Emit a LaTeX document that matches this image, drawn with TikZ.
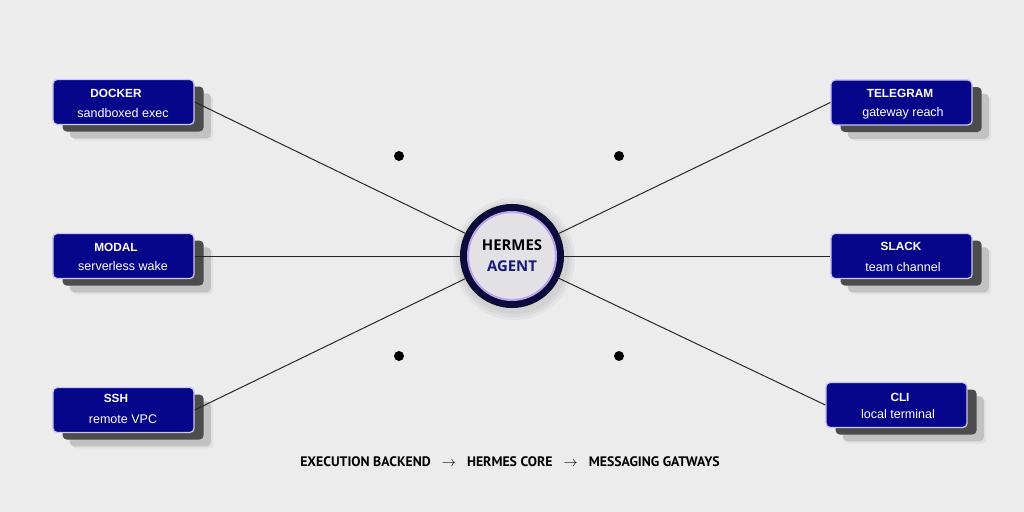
\documentclass[tikz,border=0pt]{standalone}
\usepackage{fontspec}
\setmainfont{Liberation Sans}
\newfontfamily\corefont{Open Sans}
\newfontfamily\capfont{PT Sans}
\usetikzlibrary{shadows,backgrounds}

\definecolor{bggray}{HTML}{ECECEC}
\definecolor{navybox}{HTML}{06068A}
\definecolor{lavend}{HTML}{CBC6F2}
\definecolor{ringdark}{HTML}{0C0C3A}
\definecolor{ringlight}{HTML}{B8A5EE}
\definecolor{corefill}{HTML}{E2E2E6}
\definecolor{agentblue}{HTML}{1A1A7C}

\tikzset{
  box/.style={rounded corners=3pt, fill=navybox, draw=lavend, line width=0.9pt,
    minimum width=3.525cm, minimum height=1.125cm, inner sep=0pt,
    general shadow={fill=black!12, draw=none, shadow xshift=13.6pt, shadow yshift=-11.2pt},
    general shadow={fill=black!24, draw=none, shadow xshift=12pt, shadow yshift=-9.8pt},
    general shadow={fill=black!70, draw=none, shadow xshift=6.8pt, shadow yshift=-5pt}},
  ttl/.style={text=white, inner sep=0pt, text height=6pt, text depth=0pt,
    font=\bfseries\fontsize{8.4}{10}\selectfont},
  sub/.style={text=white, inner sep=0pt, text height=6pt, text depth=0pt,
    font=\fontsize{8.9}{10}\selectfont},
  link/.style={draw=black!85, line width=0.7pt},
  blackdot/.style={circle, fill=black, inner sep=0pt, minimum size=7.1pt},
}

\begin{document}
\begin{tikzpicture}[x=0.025cm, y=-0.025cm]
  \useasboundingbox (0,0) rectangle (1024,512);

  % core
  \node[circle, fill=ringdark, minimum size=2.6cm, inner sep=0pt] (hermes) at (512,256) {};
  \node[circle, fill=corefill, draw=ringlight, line width=1.4pt, minimum size=2.2cm,
    inner sep=0pt, align=center, font=\corefont\bfseries\fontsize{10.6}{15}\selectfont]
    (core) at (512,256) {HERMES\\\textcolor{agentblue}{AGENT}};

  % execution backends
  \node[box] (docker) at (123.5,102) {};
  \node[ttl] (dockerT) at (116,93) {DOCKER};
  \node[sub] (dockerS) at (123,113) {sandboxed exec};

  \node[box] (modal) at (123.5,256) {};
  \node[ttl] (modalT) at (116,247) {MODAL};
  \node[sub] (modalS) at (123,266) {serverless wake};

  \node[box] (ssh) at (123.5,410) {};
  \node[ttl] (sshT) at (116,398) {SSH};
  \node[sub] (sshS) at (123,419) {remote VPC};

  % messaging gateways
  \node[box] (telegram) at (901.5,102.5) {};
  \node[ttl] (telegramT) at (900,93) {TELEGRAM};
  \node[sub] (telegramS) at (903,112) {gateway reach};

  \node[box] (slack) at (901.5,256) {};
  \node[ttl] (slackT) at (901,246) {SLACK};
  \node[sub] (slackS) at (903,267) {team channel};

  \node[box] (cli) at (896.5,405) {};
  \node[ttl] (cliT) at (900,397) {CLI};
  \node[sub] (cliS) at (898,414) {local terminal};

  % spokes
  \draw[link] (docker.east) -- (hermes);
  \draw[link] (modal.east) -- (hermes);
  \draw[link] (ssh.east) -- (hermes);
  \draw[link] (telegram.west) -- (hermes);
  \draw[link] (slack.west) -- (hermes);
  \draw[link] (cli.west) -- (hermes);

  % dots
  \node[blackdot] (dotA) at (399,156) {};
  \node[blackdot] (dotB) at (619,156) {};
  \node[blackdot] (dotC) at (399,356) {};
  \node[blackdot] (dotD) at (619,356) {};

  \node[font=\capfont\bfseries\fontsize{9.8}{11}\selectfont] (flow) at (510,462)
    {EXECUTION BACKEND\;\; $\rightarrow$\;\; HERMES CORE\;\; $\rightarrow$\;\; MESSAGING GATWAYS};

  \begin{scope}[on background layer]
    \fill[bggray] (0,0) rectangle (1024,512);
    \foreach \r in {61,58,55}
      \fill[black, opacity=0.035] (514,259) circle (\r);
  \end{scope}
\end{tikzpicture}
\end{document}
